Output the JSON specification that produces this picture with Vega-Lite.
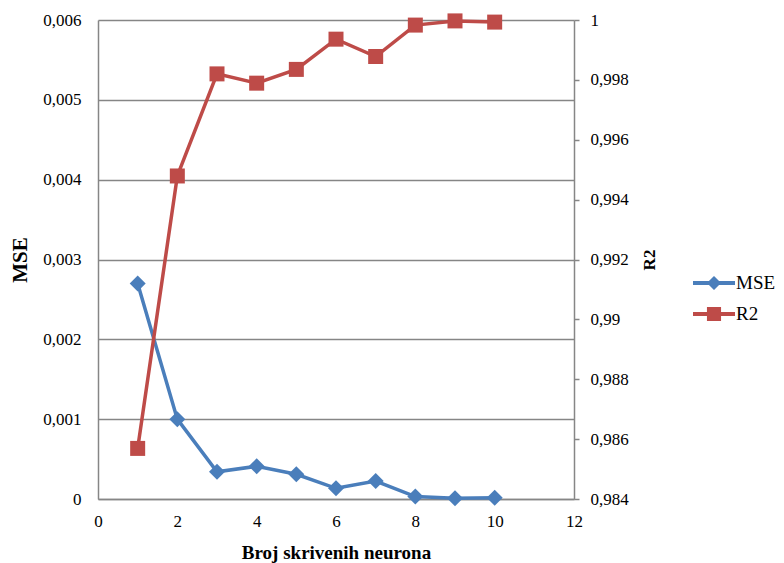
{
  "$schema": "https://vega.github.io/schema/vega-lite/v6.json",
  "width": 476,
  "height": 479,
  "autosize": {"type": "none"},
  "padding": {"left": 98, "top": 20, "right": 210, "bottom": 64},
  "background": "white",
  "config": {
    "view": {"stroke": null},
    "font": "'Liberation Serif', 'Times New Roman', serif",
    "axis": {
      "labelColor": "#000000",
      "titleColor": "#000000",
      "domainColor": "#868686",
      "domainWidth": 1.5,
      "tickColor": "#868686",
      "tickWidth": 1.5,
      "gridColor": "#868686",
      "gridWidth": 1.5,
      "gridOpacity": 1
    }
  },
  "data": {
    "values": [
      {"n": 1, "MSE": 0.0027, "R2": 0.98569},
      {"n": 2, "MSE": 0.001, "R2": 0.99479},
      {"n": 3, "MSE": 0.00034, "R2": 0.9982},
      {"n": 4, "MSE": 0.00041, "R2": 0.99789},
      {"n": 5, "MSE": 0.00031, "R2": 0.99835},
      {"n": 6, "MSE": 0.000134, "R2": 0.99936},
      {"n": 7, "MSE": 0.000225, "R2": 0.99878},
      {"n": 8, "MSE": 0.00003, "R2": 0.99983},
      {"n": 9, "MSE": 0.00001, "R2": 0.99997},
      {"n": 10, "MSE": 0.000016, "R2": 0.99993}
    ]
  },
  "encoding": {
    "x": {
      "field": "n",
      "type": "quantitative",
      "scale": {"domain": [0, 12], "nice": false, "zero": false},
      "axis": {
        "values": [0, 2, 4, 6, 8, 10, 12],
        "grid": false,
        "ticks": false,
        "labelFlush": false,
        "labelFont": "Liberation Serif",
        "labelFontSize": 17,
        "labelPadding": 14,
        "title": "Broj  skrivenih neurona",
        "titleFont": "Liberation Serif",
        "titleFontSize": 19,
        "titleFontWeight": "bold",
        "titleX": 238,
        "titleY": 59,
        "titleAlign": "center",
        "titleBaseline": "alphabetic"
      }
    },
    "color": {
      "type": "nominal",
      "scale": {"domain": ["MSE", "R2"], "range": ["#4A7EBB", "#BE4B48"]},
      "legend": {
        "title": null,
        "orient": "none",
        "legendX": 601,
        "legendY": 248,
        "padding": 0,
        "symbolSize": 900,
        "symbolStrokeWidth": 0,
        "labelOffset": 7,
        "labelFont": "Liberation Serif",
        "labelFontSize": 19,
        "labelColor": "#000000",
        "rowPadding": 6,
        "encode": {
          "symbols": {
            "update": {
              "shape": {"signal": "datum.value === 'MSE' ? 'M-1.4,-0.13H1.4V0.13H-1.4Z M0,-0.47L0.47,0L0,0.47L-0.47,0Z' : 'M-1.4,-0.13H1.4V0.13H-1.4Z M-0.47,-0.47H0.47V0.47H-0.47Z'"},
              "fill": {"signal": "datum.value === 'MSE' ? '#4A7EBB' : '#BE4B48'"},
              "fillOpacity": {"value": 1},
              "strokeWidth": {"value": 0}
            }
          }
        }
      }
    }
  },
  "layer": [
    {
      "mark": {
        "type": "line",
        "strokeWidth": 3.5,
        "point": {"shape": "diamond", "size": 256, "filled": true, "opacity": 1}
      },
      "encoding": {
        "y": {
          "field": "MSE",
          "type": "quantitative",
          "scale": {"domain": [0, 0.006], "nice": false},
          "axis": {
            "orient": "left",
            "values": [0, 0.001, 0.002, 0.003, 0.004, 0.005, 0.006],
            "format": "~g",
            "labelExpr": "replace(datum.label, '.', ',')",
            "grid": true,
            "ticks": false,
            "labelFont": "Liberation Serif",
            "labelFontSize": 17,
            "labelPadding": 17,
            "title": "MSE",
            "titleFont": "Liberation Serif",
            "titleFontSize": 21,
            "titleFontWeight": "bold",
            "titleAngle": 270,
            "titleX": -78,
            "titleY": 239.5,
            "titleAlign": "center",
            "titleBaseline": "middle"
          }
        },
        "color": {"datum": "MSE"}
      }
    },
    {
      "mark": {
        "type": "line",
        "strokeWidth": 3.5,
        "point": {"shape": "square", "size": 225, "filled": true, "opacity": 1}
      },
      "encoding": {
        "y": {
          "field": "R2",
          "type": "quantitative",
          "scale": {"domain": [0.984, 1], "nice": false, "zero": false},
          "axis": {
            "orient": "right",
            "values": [0.984, 0.986, 0.988, 0.99, 0.992, 0.994, 0.996, 0.998, 1],
            "format": "~g",
            "labelExpr": "replace(datum.label, '.', ',')",
            "grid": false,
            "ticks": true,
            "tickSize": 5,
            "labelFont": "Liberation Serif",
            "labelFontSize": 17,
            "labelPadding": 11,
            "title": "R2",
            "titleFont": "Liberation Serif",
            "titleFontSize": 17,
            "titleFontWeight": "bold",
            "titleAngle": 270,
            "titleX": 75,
            "titleY": 239.5,
            "titleAlign": "center",
            "titleBaseline": "middle"
          }
        },
        "color": {"datum": "R2"}
      }
    }
  ],
  "resolve": {"scale": {"y": "independent"}, "axis": {"y": "independent"}}
}
